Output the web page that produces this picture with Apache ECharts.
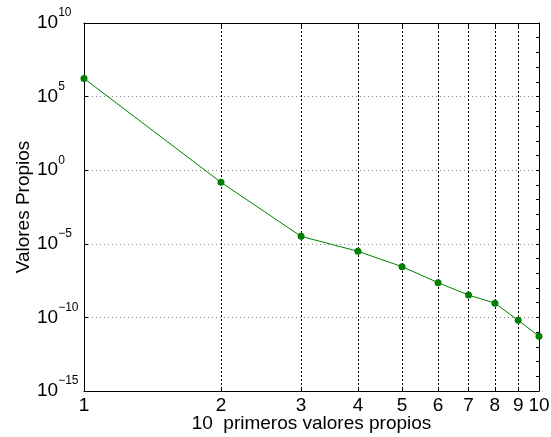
<!DOCTYPE html>
<html>
<head>
<meta charset="utf-8">
<script src="https://cdn.jsdelivr.net/npm/echarts@6/dist/echarts.min.js"></script>
<style>
html,body{margin:0;padding:0;background:#fff;}
#c{width:551px;height:437px;}
</style>
</head>
<body>
<div id="c"></div>
<script>
// Data
var xValues = [1, 2, 3, 4, 5, 6, 7, 8, 9, 10];
var eigenValues = [1.7e6, 0.15, 3.2e-5, 3.1e-6, 2.8e-7, 2.3e-8, 3.3e-9, 9.3e-10, 6.3e-11, 5.3e-12];
var xTicks = [1, 2, 3, 4, 5, 6, 7, 8, 9, 10];
var yTicks = [1e-15, 1e-10, 1e-5, 1e0, 1e5, 1e10];
var yMinorTicks = [1e-15,1e-14,1e-13,1e-12,1e-11,1e-10,1e-9,1e-8,1e-7,1e-6,1e-5,1e-4,1e-3,1e-2,1e-1,1e0,1e1,1e2,1e3,1e4,1e5,1e6,1e7,1e8,1e9,1e10];
var xTitle = '10  primeros valores propios';
var yTitle = 'Valores Propios';

var FONT = '"Liberation Sans", Arial, Helvetica, sans-serif';

var seriesData = xValues.map(function (x, i) { return [x, eigenValues[i]]; });

function expLabel(v) {
  var e = Math.round(Math.log10(v));
  var s = (e < 0 ? '\u2212' + (-e) : '' + e);
  return '{b|10}{e|' + s + '}';
}

var chart = echarts.init(document.getElementById('c'), null, {renderer: 'canvas'});
chart.setOption({
  animation: false,
  backgroundColor: '#fff',
  grid: {left: 84, right: 12, top: 23, bottom: 46, containLabel: false, outerBoundsMode: 'none'},
  xAxis: [{
    type: 'log', logBase: 10, min: 1, max: 10, position: 'bottom',
    name: xTitle, nameLocation: 'middle', nameGap: 23, nameMoveOverlap: false,
    nameTextStyle: {fontFamily: FONT, fontSize: 19, color: '#000', verticalAlign: 'top'},
    axisLine: {show: true, onZero: false, lineStyle: {color: '#000', width: 1}},
    axisTick: {show: true, inside: true, length: 4, customValues: xTicks, lineStyle: {color: '#000'}},
    axisLabel: {show: true, customValues: xTicks, margin: 5, fontFamily: FONT, fontSize: 19, color: '#000',
      formatter: function (v) { return '' + Math.round(v); }},
    splitLine: {show: true, lineStyle: {color: '#000', type: [2, 2], width: 1}},
    minorTick: {show: false}
  }, {
    type: 'log', logBase: 10, min: 1, max: 10, position: 'top',
    axisLine: {show: true, onZero: false, lineStyle: {color: '#000', width: 1}},
    axisTick: {show: true, inside: true, length: 4, customValues: xTicks, lineStyle: {color: '#000'}},
    axisLabel: {show: false},
    splitLine: {show: false}
  }],
  yAxis: [{
    type: 'log', logBase: 10, min: 1e-15, max: 1e10, position: 'left', splitNumber: 5,
    name: yTitle, nameLocation: 'middle', nameGap: 51, nameRotate: 90, nameMoveOverlap: false,
    nameTextStyle: {fontFamily: FONT, fontSize: 19, color: '#000'},
    axisLine: {show: true, onZero: false, lineStyle: {color: '#000', width: 1}},
    axisTick: {show: true, inside: true, length: 4, customValues: yTicks, lineStyle: {color: '#000'}},
    axisLabel: {show: true, customValues: yTicks, margin: 47, align: 'left', verticalAlign: 'middle',
      formatter: expLabel,
      rich: {
        b: {fontFamily: FONT, fontSize: 19, color: '#000', verticalAlign: 'middle', lineHeight: 32},
        e: {fontFamily: FONT, fontSize: 12, color: '#000', verticalAlign: 'top', lineHeight: 12}
      }},
    splitLine: {show: true, lineStyle: {color: '#888', type: [1, 3], width: 1}}
  }, {
    type: 'log', logBase: 10, min: 1e-15, max: 1e10, position: 'right',
    axisLine: {show: true, onZero: false, lineStyle: {color: '#000', width: 1}},
    axisTick: {show: true, inside: true, length: 3, customValues: yMinorTicks, lineStyle: {color: '#000'}},
    axisLabel: {show: false},
    splitLine: {show: false}
  }],
  series: [{
    type: 'line', xAxisIndex: 0, yAxisIndex: 0,
    data: seriesData,
    symbol: 'circle', symbolSize: 7, showSymbol: true,
    itemStyle: {color: '#008000'},
    lineStyle: {color: '#008000', width: 1}
  }]
});
</script>
</body>
</html>
